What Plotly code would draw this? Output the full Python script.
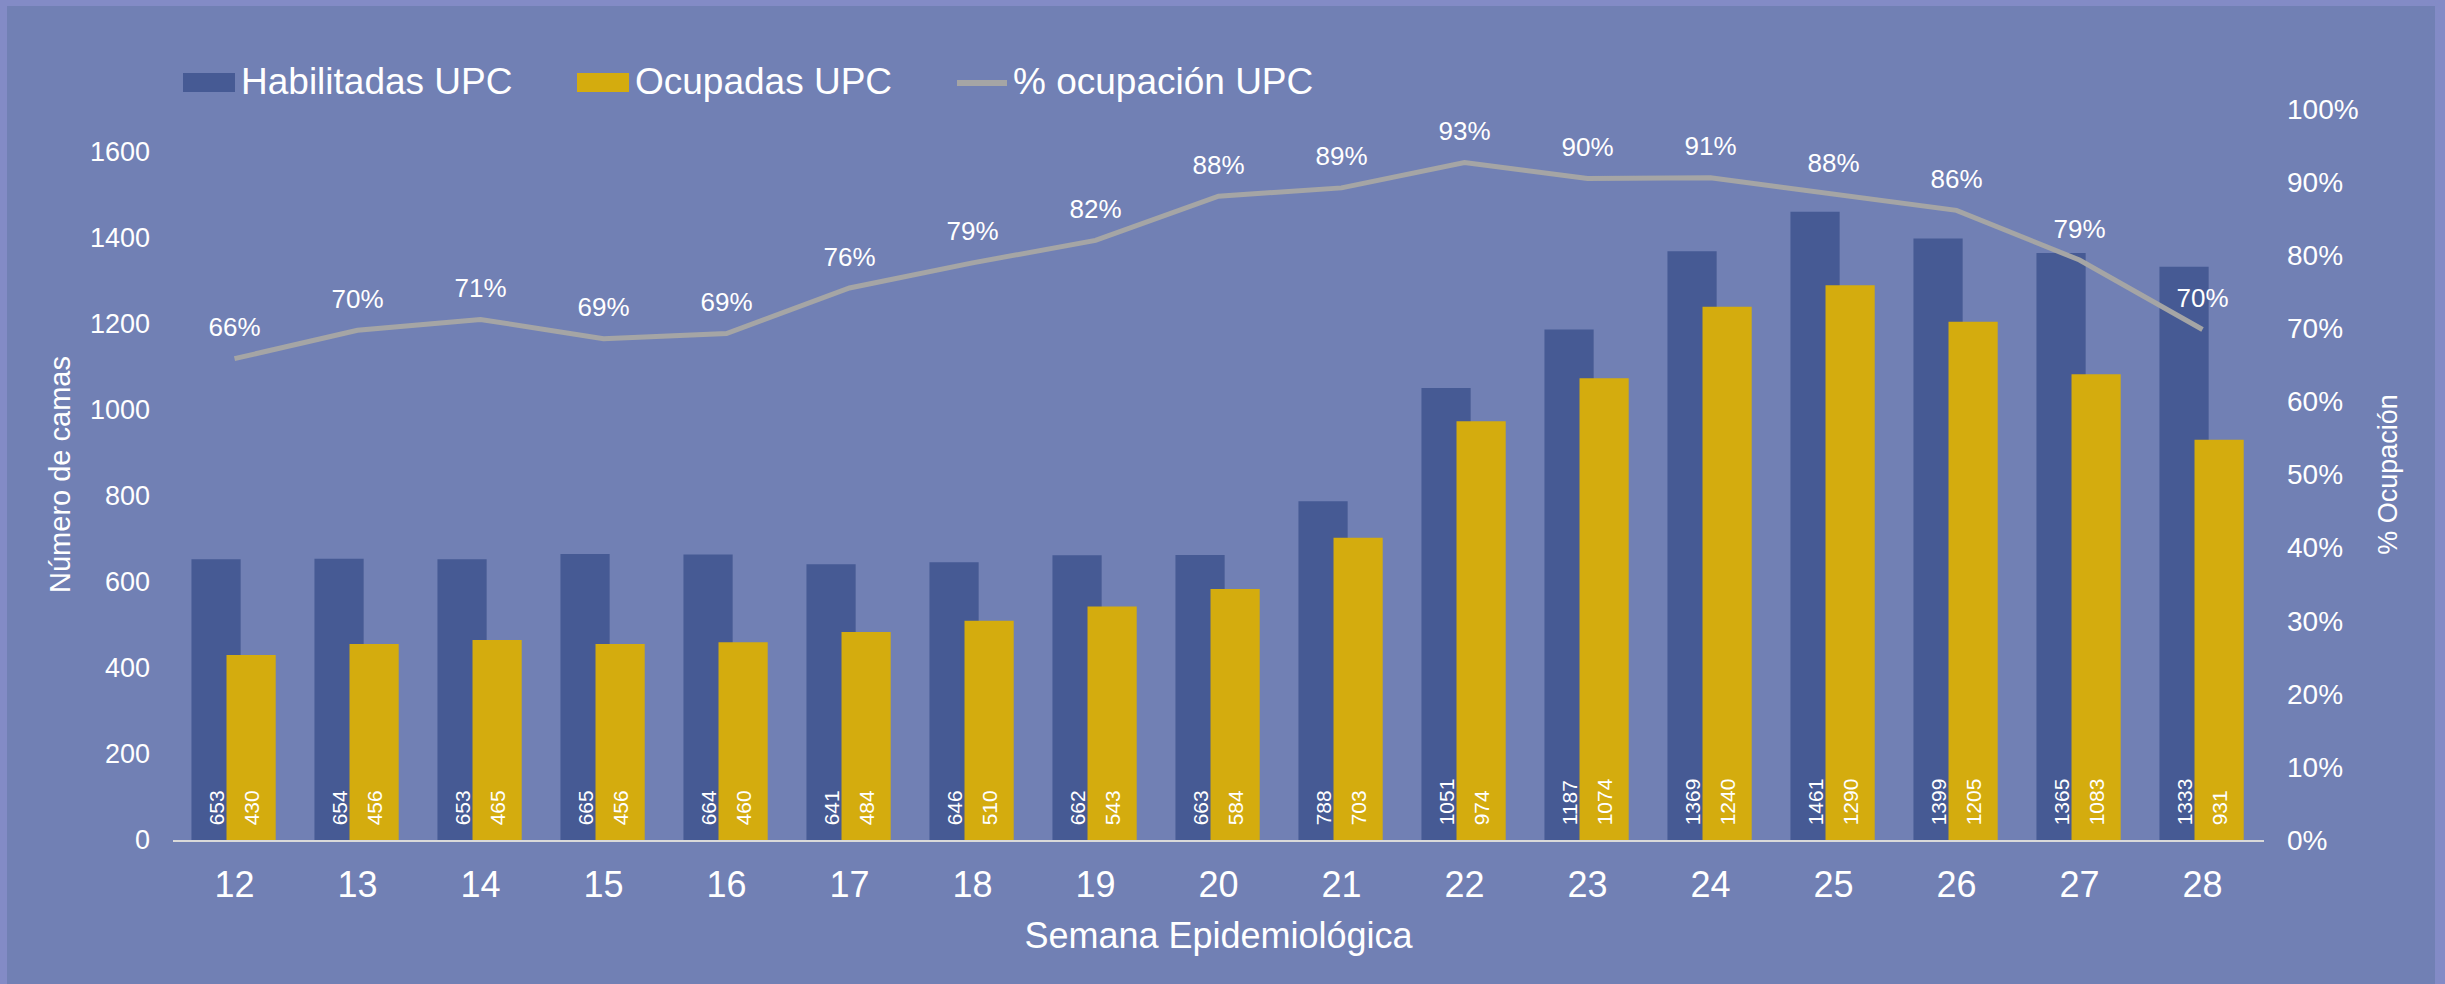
import plotly.graph_objects as go

# ---------------- data ----------------
semanas = ["12", "13", "14", "15", "16", "17", "18", "19", "20",
           "21", "22", "23", "24", "25", "26", "27", "28"]
habilitadas = [653, 654, 653, 665, 664, 641, 646, 662, 663,
               788, 1051, 1187, 1369, 1461, 1399, 1365, 1333]
ocupadas = [430, 456, 465, 456, 460, 484, 510, 543, 584,
            703, 974, 1074, 1240, 1290, 1205, 1083, 931]
ocupacion = [0.6585, 0.6972, 0.7121, 0.6857, 0.6928, 0.7551, 0.7895, 0.8202, 0.8808,
             0.8921, 0.9267, 0.9048, 0.9058, 0.8830, 0.8613, 0.7934, 0.6984]
y_ticks = [0, 200, 400, 600, 800, 1000, 1200, 1400, 1600]
y2_ticks = [0, 0.1, 0.2, 0.3, 0.4, 0.5, 0.6, 0.7, 0.8, 0.9, 1.0]

# ---------------- style ----------------
FONT = "Liberation Sans, Arial, sans-serif"
BLUE = "#465A94"
GOLD = "#D4AC0E"
GREY = "#A5A5A5"
INNER = "#7180B4"
OUTER = "#838BC6"
W, H = 2445, 984
L, R, T, B = 173, 2264, 109, 840


def px(x):
    return (x - L) / (R - L)


def py(y):
    return (B - y) / (B - T)


fig = go.Figure()

fig.add_trace(go.Bar(
    x=semanas, y=habilitadas, name="Habilitadas UPC",
    offset=-0.35, width=0.4,
    marker=dict(color=BLUE, line=dict(width=0)),
    texttemplate="\u00a0\u00a0%{y}", textposition="inside",
    insidetextanchor="start", textangle=-90,
    textfont=dict(family=FONT, size=21, color="white"),
    showlegend=False,
))
fig.add_trace(go.Bar(
    x=semanas, y=ocupadas, name="Ocupadas UPC",
    offset=-0.065, width=0.4,
    marker=dict(color=GOLD, line=dict(width=0)),
    texttemplate="\u00a0\u00a0%{y}", textposition="inside",
    insidetextanchor="start", textangle=-90,
    textfont=dict(family=FONT, size=21, color="white"),
    showlegend=False,
))
fig.add_trace(go.Scatter(
    x=semanas, y=ocupacion, name="% ocupación UPC", yaxis="y2",
    mode="lines+markers+text",
    line=dict(color=GREY, width=5),
    marker=dict(size=24, color="rgba(0,0,0,0)"),
    texttemplate="%{y:.0%}", textposition="top center",
    textfont=dict(family=FONT, size=26, color="white"),
    cliponaxis=False,
    showlegend=False,
))

# ---------------- manual legend ----------------
shapes = [
    dict(type="rect", xref="paper", yref="paper",
         x0=px(7), x1=px(2435), y0=py(6), y1=py(H + 5),
         fillcolor=INNER, line=dict(width=0), layer="below"),
    dict(type="rect", xref="paper", yref="paper",
         x0=px(183), x1=px(235), y0=py(92), y1=py(73),
         fillcolor=BLUE, line=dict(width=0)),
    dict(type="rect", xref="paper", yref="paper",
         x0=px(577), x1=px(629), y0=py(92), y1=py(73),
         fillcolor=GOLD, line=dict(width=0)),
    dict(type="line", xref="paper", yref="paper",
         x0=px(957), x1=px(1007), y0=py(83), y1=py(83),
         line=dict(color=GREY, width=6)),
]
annotations = []
for xx, label in [(239, "Habilitadas UPC"), (633, "Ocupadas UPC"), (1011, "% ocupación UPC")]:
    annotations.append(dict(
        x=px(xx), y=py(82), xref="paper", yref="paper",
        xanchor="left", yanchor="middle", showarrow=False,
        text=label, font=dict(family=FONT, size=37, color="white"),
    ))

fig.update_layout(
    width=W, height=H,
    margin=dict(l=L, r=W - R, t=T, b=H - B, autoexpand=False),
    paper_bgcolor=OUTER,
    plot_bgcolor="rgba(0,0,0,0)",
    barmode="overlay",
    font=dict(family=FONT, color="white"),
    shapes=shapes,
    annotations=annotations,
    showlegend=False,
    xaxis=dict(
        type="category", range=[-0.5, 16.5],
        showline=True, linecolor="#D9D9D9", linewidth=2,
        showgrid=False, ticks="", ticklabelstandoff=12,
        tickfont=dict(family=FONT, size=36, color="white"),
        title=dict(text="Semana Epidemiológica", standoff=19,
                   font=dict(family=FONT, size=36, color="white")),
        automargin=False,
    ),
    yaxis=dict(
        range=[0, 1700], tickvals=y_ticks,
        showgrid=False, zeroline=False, showline=False, ticks="",
        ticklabelstandoff=22,
        tickfont=dict(family=FONT, size=27, color="white"),
        title=dict(text="Número de camas", standoff=10,
                   font=dict(family=FONT, size=29, color="white")),
        automargin=False,
    ),
    yaxis2=dict(
        overlaying="y", side="right",
        range=[0, 1], tickvals=y2_ticks, tickformat=".0%",
        showgrid=False, zeroline=False, showline=False, ticks="",
        ticklabelstandoff=22,
        tickfont=dict(family=FONT, size=28, color="white"),
        title=dict(text="% Ocupación", standoff=20,
                   font=dict(family=FONT, size=27, color="white")),
        automargin=False,
    ),
)

fig.write_html("out.html", config={"displayModeBar": False},
               post_script="document.body.style.margin='0px';")
